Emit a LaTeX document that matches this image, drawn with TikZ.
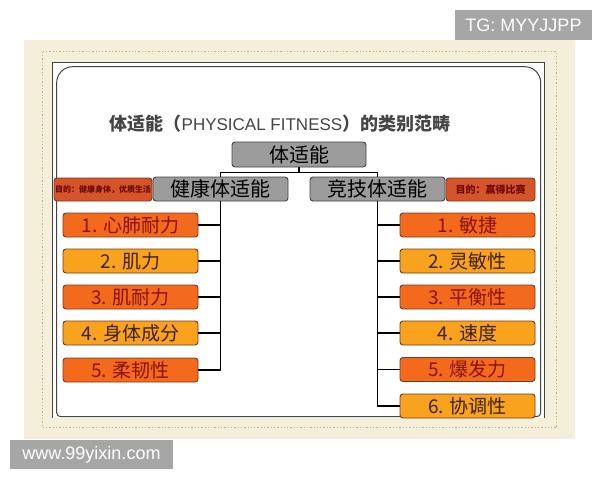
\documentclass[tikz,border=0pt]{standalone}
\usepackage{fontspec}
\setmainfont{Liberation Sans}
\newfontfamily\cjk{Noto Sans CJK SC}
\definecolor{beige}{HTML}{F4EFDA}
\definecolor{gold}{HTML}{C9B46A}
\definecolor{framec}{HTML}{444444}
\definecolor{wmgray}{HTML}{A6A6A6}
\definecolor{boxgray}{HTML}{9C9C9C}
\definecolor{oddfill}{HTML}{F46A1C}
\definecolor{evenfill}{HTML}{F8A21D}
\definecolor{oddtext}{HTML}{8A1208}
\definecolor{eventext}{HTML}{3E2205}
\definecolor{itemborder}{HTML}{7A3A1A}
\definecolor{purfill}{HTML}{D6542A}
\definecolor{purtext}{HTML}{6A0A0A}
\definecolor{titlec}{HTML}{454545}
\tikzset{
  graybox/.style={draw=framec, fill=boxgray, rounded corners=3pt, line width=0.9pt,
    inner sep=0pt, minimum height=24pt, font=\cjk\fontsize{20}{20}\selectfont, text=black},
  itembox/.style={draw=itemborder, rounded corners=3pt, line width=0.9pt,
    inner sep=0pt, minimum width=135pt, minimum height=24pt, font=\cjk\fontsize{19}{19}\selectfont},
  odditem/.style={itembox, fill=oddfill, text=oddtext},
  evenitem/.style={itembox, fill=evenfill, text=eventext},
  purbox/.style={draw=itemborder, fill=purfill, rounded corners=3pt, line width=0.9pt,
    inner sep=0pt, minimum height=23pt, text=purtext},
  conn/.style={draw=black, line width=1.6pt},
  wmbox/.style={fill=wmgray, text=white, inner sep=0pt, font=\fontsize{18}{18}\selectfont}
}
\begin{document}
\begin{tikzpicture}[x=1pt,y=-1pt]
\useasboundingbox (0,0) rectangle (600,480);
\fill[white] (0,0) rectangle (600,480);
% background
\fill[beige] (24,40) rectangle (575,439);
\draw[gold, line width=1.3pt, dotted] (42.7,51.7) rectangle (556.7,427.7);
\fill[white] (52.7,62.7) rectangle (544,418);
\draw[framec, line width=1pt] (52.7,418) -- (52.7,62.7) -- (544,62.7) -- (544,418);
\draw[framec, line width=1pt, fill=white]
  (56.7,240) [rounded corners=16pt] -- (56.7,66.7) -- (540.7,66.7) -- (540.7,240)
  [rounded corners=4pt] -- (540.7,416.7) -- (56.7,416.7) -- cycle;
% title
\node (title) at (280,124) {{\cjk\bfseries\fontsize{18}{18}\selectfont\color{titlec}体适能（}{\fontsize{17}{17}\selectfont\color{titlec}PHYSICAL FITNESS}{\cjk\bfseries\fontsize{18}{18}\selectfont\color{titlec}）的类别范畴}};
% purpose boxes
\node[purbox, minimum width=98pt] (lp) at (103,189.5)
  {\makebox[96pt][l]{\cjk\bfseries\fontsize{8}{8}\selectfont 目的：健康身体，优质生活}};
\node[purbox, minimum width=89pt] (rp) at (490.5,189.5)
  {\cjk\bfseries\fontsize{10}{10}\selectfont 目的：赢得比赛};
% gray boxes
\node[graybox, minimum width=134pt, minimum height=25pt] (top) at (299,154.5) {体适能};
\node[graybox, minimum width=135pt] (hl) at (220.5,189) {健康体适能};
\node[graybox, minimum width=135pt] (jj) at (377.5,189) {竞技体适能};
% items left
\node[odditem]  (L1) at (130.5,225) {1. 心肺耐力};
\node[evenitem] (L2) at (130.5,261) {2. 肌力};
\node[odditem]  (L3) at (130.5,297) {3. 肌耐力};
\node[evenitem] (L4) at (130.5,333) {4. 身体成分};
\node[odditem]  (L5) at (130.5,370) {5. 柔韧性};
% items right
\node[odditem]  (R1) at (467.5,225) {1. 敏捷};
\node[evenitem] (R2) at (467.5,261) {2. 灵敏性};
\node[odditem]  (R3) at (467.5,297) {3. 平衡性};
\node[evenitem] (R4) at (467.5,333) {4. 速度};
\node[odditem]  (R5) at (467.5,369.5) {5. 爆发力};
\node[evenitem] (R6) at (467.5,406) {6. 协调性};
% connectors
\draw[conn] (top.south) -- ++(0,5) -| (hl.north);
\draw[conn] (top.south) -- ++(0,5) -| (jj.north);
\foreach \i in {1,...,5} { \draw[conn] (hl.south) |- (L\i.east); }
\foreach \i in {1,...,6} { \draw[conn] (jj.south) |- (R\i.west); }
% watermarks
\node[wmbox, minimum width=137pt, minimum height=30pt] (tg) at (523.5,25) {TG: MYYJJPP};
\node[wmbox, minimum width=163pt, minimum height=29pt] (www) at (91.5,454.5) {www.99yixin.com};
\end{tikzpicture}
\end{document}
